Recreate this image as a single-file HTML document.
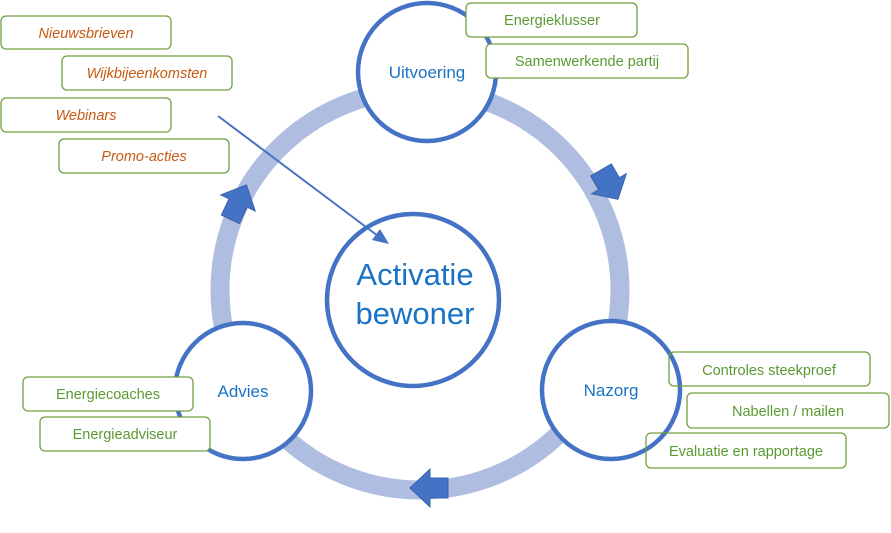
<!DOCTYPE html>
<html><head><meta charset="utf-8"><style>
body{margin:0;background:#fff;}
svg{display:block;font-family:"Liberation Sans",sans-serif;}
.b{fill:#fff;stroke:#70a040;stroke-width:1.3;}
.o{fill:#c55a11;font-style:italic;font-size:14.5px;text-anchor:middle;}
.g{fill:#5b9a32;font-size:14.5px;text-anchor:middle;}
.c{fill:#fff;stroke:#4472c4;stroke-width:4.5;}
.t{fill:#1a73c4;font-size:17px;text-anchor:middle;}
</style></head><body>
<svg width="891" height="533" viewBox="0 0 891 533">
<circle cx="420" cy="290" r="200" fill="none" stroke="#afbde0" stroke-width="19"/>
<g fill="#4472c4" stroke="#3a62a8" stroke-width="1">
<polygon transform="translate(608,182) rotate(-30)" points="-12,-14 12,-14 12,2 20,2 0,20 -20,2 -12,2"/>
<polygon transform="translate(238,203) rotate(25)" points="-10,18 10,18 10,0 19,0 0,-20 -19,0 -10,0"/>
<polygon transform="translate(428,488)" points="20,-10 20,10 2,10 2,19 -18,0 2,-19 2,-10"/>
</g>
<circle class="c" cx="427" cy="72" r="69"/>
<circle class="c" cx="611" cy="390" r="69"/>
<circle class="c" cx="243" cy="391" r="68"/>
<circle class="c" cx="413" cy="300" r="86"/>
<text class="t" x="427" y="78">Uitvoering</text>
<text class="t" x="611" y="396">Nazorg</text>
<text class="t" x="243" y="397">Advies</text>
<text x="415" y="285" fill="#1a73c4" font-size="31" text-anchor="middle">Activatie</text>
<text x="415" y="324" fill="#1a73c4" font-size="31" text-anchor="middle">bewoner</text>
<line x1="218" y1="116" x2="378" y2="236" stroke="#4472c4" stroke-width="2"/>
<polygon points="389,244 372,240 380,229" fill="#4472c4"/>
<rect class="b" x="1" y="16" width="170" height="33" rx="5"/><text class="o" x="86" y="38">Nieuwsbrieven</text>
<rect class="b" x="62" y="56" width="170" height="34" rx="5"/><text class="o" x="147" y="78">Wijkbijeenkomsten</text>
<rect class="b" x="1" y="98" width="170" height="34" rx="5"/><text class="o" x="86" y="120">Webinars</text>
<rect class="b" x="59" y="139" width="170" height="34" rx="5"/><text class="o" x="144" y="161">Promo-acties</text>
<rect class="b" x="466" y="3" width="171" height="34" rx="5"/><text class="g" x="552" y="25">Energieklusser</text>
<rect class="b" x="486" y="44" width="202" height="34" rx="5"/><text class="g" x="587" y="66">Samenwerkende partij</text>
<rect class="b" x="669" y="352" width="201" height="34" rx="5" style="fill:none"/><text class="g" x="769" y="375">Controles steekproef</text>
<rect class="b" x="687" y="393" width="202" height="35" rx="5"/><text class="g" x="788" y="416">Nabellen / mailen</text>
<rect class="b" x="646" y="433" width="200" height="35" rx="5" style="fill:none"/><text class="g" x="746" y="456">Evaluatie en rapportage</text>
<rect class="b" x="23" y="377" width="170" height="34" rx="5"/><text class="g" x="108" y="399">Energiecoaches</text>
<rect class="b" x="40" y="417" width="170" height="34" rx="5"/><text class="g" x="125" y="439">Energieadviseur</text>
</svg>
</body></html>
